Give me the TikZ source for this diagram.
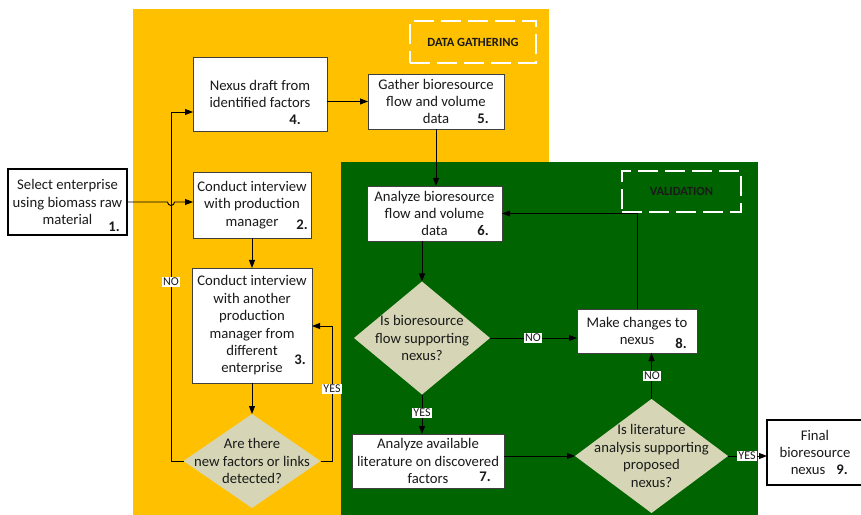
\documentclass[tikz,border=0pt]{standalone}
\usepackage{fontspec}
\setmainfont{Carlito}
\usetikzlibrary{arrows.meta,shapes.geometric,calc}
\definecolor{gold}{HTML}{FFC000}
\definecolor{dgreen}{HTML}{006400}
\definecolor{khaki}{HTML}{D6D6B6}
\definecolor{txt}{HTML}{1A1A1A}
\begin{document}
\begin{tikzpicture}[x=1bp,y=-1bp,
  every node/.style={text=txt},
  box/.style={draw=black!75, line width=0.9bp, fill=white, inner sep=0pt, outer sep=0pt,
    align=center, font=\fontsize{14.7bp}{17.4bp}\selectfont},
  endbox/.style={box, draw=black, line width=2bp},
  dia/.style={diamond, fill=khaki, inner sep=0pt, outer sep=0pt},
  diatext/.style={align=center, font=\fontsize{14.7bp}{17.4bp}\selectfont, inner sep=0pt},
  num/.style={font=\fontsize{14.7bp}{17.4bp}\selectfont\bfseries, inner sep=0pt},
  yn/.style={fill=white, inner sep=1.3bp, font=\fontsize{12bp}{12bp}\selectfont},
  arr/.style={draw=black, line width=0.9bp, -{Triangle[length=8bp,width=6bp]}},
  phase/.style={draw=white, line width=2.5bp, dash pattern=on 20bp off 7bp,
    font=\fontsize{12.5bp}{14bp}\selectfont\bfseries}
]
\useasboundingbox (0,0) rectangle (861,515);
% backgrounds
\fill[gold] (133,9) rectangle (549,515);
\fill[dgreen] (341,162) rectangle (758,515);
% phase labels
\node[phase, minimum width=126bp, minimum height=42bp] (pg) at (473,42) {DATA GATHERING};
\node[phase, minimum width=119bp, minimum height=41bp] (pv) at (681.5,191.5) {VALIDATION};
% boxes
\node[endbox, minimum width=119bp, minimum height=66bp] (b1) at (67.5,202) {Select enterprise\\using biomass raw\\material};
\node[box, minimum width=134bp, minimum height=74bp] (b4) at (260,94) {Nexus draft from\\identified factors};
\node[box, minimum width=118bp, minimum height=66bp] (b2) at (252,205) {Conduct interview\\with production\\manager};
\node[box, minimum width=136bp, minimum height=55bp] (b5) at (436,101.5) {Gather bioresource\\flow and volume\\data};
\node[box, minimum width=135bp, minimum height=55bp] (b6) at (434.5,213.5) {Analyze bioresource\\flow and volume\\data};
\node[box, minimum width=120bp, minimum height=115bp] (b3) at (252,325.5) {Conduct interview\\with another\\production\\manager from\\different\\enterprise};
\node[box, minimum width=120bp, minimum height=44bp] (b8) at (637,331) {Make changes to\\nexus};
\node[box, minimum width=152bp, minimum height=54bp] (b7) at (428,461) {Analyze available\\literature on discovered\\factors};
\node[endbox, minimum width=96bp, minimum height=65bp] (b9) at (815,452.5) {Final\\bioresource\\\hspace*{-14bp}nexus};
% numbers
\node[num] (n1) at (114,227) {1.};
\node[num] (n4) at (295,120) {4.};
\node[num] (n2) at (302,225) {2.};
\node[num] (n5) at (483,119) {5.};
\node[num] (n6) at (483,231) {6.};
\node[num] (n3) at (300,360) {3.};
\node[num] (n8) at (681,343) {8.};
\node[num] (n7) at (485,477) {7.};
\node[num] (n9) at (842,470) {9.};
% diamonds
\node[dia, minimum width=137bp, minimum height=94bp] (d1) at (252,461) {};
\node[diatext] (t1) at (d1) {Are there\\new factors or links\\detected?};
\node[dia, minimum width=136bp, minimum height=113bp] (d2) at (422,338) {};
\node[diatext] (t2) at (d2) {Is bioresource\\flow supporting\\nexus?};
\node[dia, minimum width=153bp, minimum height=114bp] (d3) at (651.5,456) {};
\node[diatext] (t3) at (d3) {Is literature\\analysis supporting\\proposed\\nexus?};
% helper coordinates
\coordinate (hop) at (171,202);
\coordinate (noc) at (171,112);
\coordinate (yesc) at (332,326);
% connectors
\draw[arr] (b1.east) -- ($(hop)+(-3.5,0)$) arc[start angle=180, end angle=360, radius=3.5bp] -- (b1.east -| b2.west);
\draw[arr] (d1.west) -| (noc) -- (noc -| b4.west);
\draw[arr] (d1.east) -| (yesc) -- (yesc -| b3.east);
\draw[arr] (b2.south) -- (b3.north);
\draw[arr] (b3.south) -- (d1.north);
\draw[arr] (b5.west -| b4.east) -- (b5.west);
\draw[arr] (b5.south) -- (b5.south |- b6.north);
\draw[arr] (b6.south -| d2.north) -- (d2.north);
\draw[arr] (d2.south) -- (d2.south |- b7.north);
\draw[arr] (d2.east) -- (d2.east -| b8.west);
\draw[arr] (b8.north) |- (b6.east);
\draw[arr] (d3.north) -- (d3.north |- b8.south);
\draw[arr] (d3.west -| b7.east) -- (d3.west);
\draw[arr] (d3.east) -- (d3.east -| b9.west);
% yes/no labels
\node[yn] (l1) at (171,282) {NO};
\node[yn] (l2) at (332,389) {YES};
\node[yn] (l3) at (422,413) {YES};
\node[yn] (l4) at (533,338) {NO};
\node[yn] (l5) at (652,376) {NO};
\node[yn] (l6) at (747,456) {YES};
\end{tikzpicture}
\end{document}
